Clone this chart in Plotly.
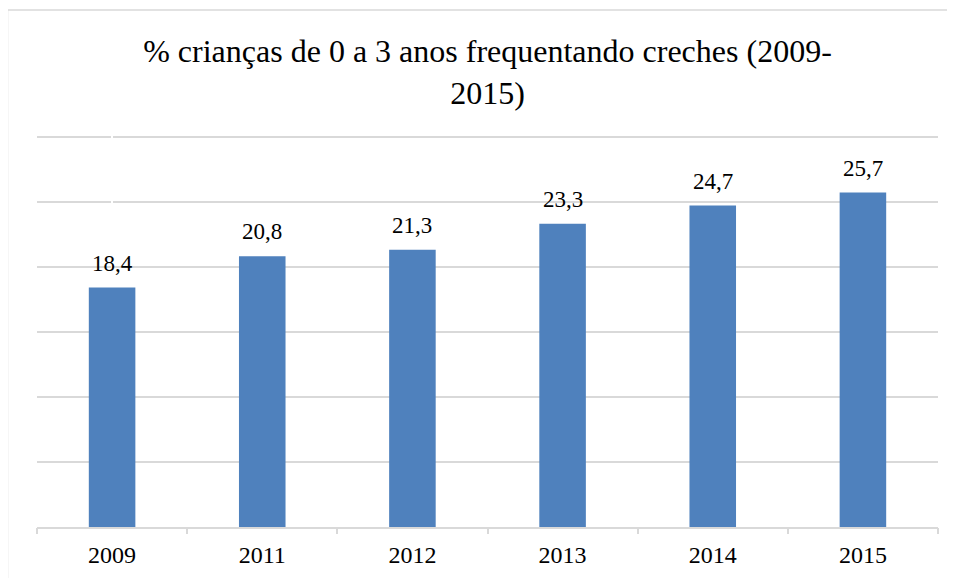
import plotly.graph_objects as go

categories = ["2009", "2011", "2012", "2013", "2014", "2015"]
values = [18.4, 20.8, 21.3, 23.3, 24.7, 25.7]
title_text = "% crianças de 0 a 3 anos frequentando creches (2009-<br>2015)"

W, H = 955, 578
OFF = 8  # page body margin offset
YMAX = 30.2
PX_PER_UNIT = 13.0
# desired plot area in page pixels
PL, PR, PB = 37, 938, 527
PT = PB - YMAX * PX_PER_UNIT
L, T = PL - OFF, PT - OFF
R = W - (PR - OFF)
B = H - (PB - OFF)
pw, ph = PR - PL, PB - PT
FONT = "Liberation Serif"

fig = go.Figure()
fig.add_trace(go.Bar(
    x=list(range(len(categories))), y=values,
    marker=dict(color="#4F81BD", line=dict(width=0)),
    width=0.31,
    hoverinfo="skip",
))

for i, v in enumerate(values):
    fig.add_annotation(
        x=i, y=v, xref="x", yref="y",
        text=f"{v:.1f}".replace(".", ","),
        showarrow=False, yanchor="bottom", yshift=10,
        font=dict(family=FONT, size=23, color="#000000"),
    )

def px_to_paper_x(px):
    return (px - PL) / pw

def px_to_paper_y(py):
    return (PB - py) / ph

fig.add_shape(
    type="rect", xref="paper", yref="paper",
    x0=px_to_paper_x(7.5), x1=px_to_paper_x(985),
    y0=px_to_paper_y(610), y1=px_to_paper_y(10.5),
    line=dict(color="#d9d9d9", width=1.5), fillcolor="rgba(0,0,0,0)", layer="below",
)

fig.update_layout(
    width=W, height=H,
    margin=dict(l=L, r=R, t=T, b=B),
    paper_bgcolor="white", plot_bgcolor="white",
    showlegend=False,
    font=dict(family=FONT, color="#000000"),
    title=dict(
        text=title_text, x=0.5, xref="paper", xanchor="center",
        y=1 - (62 - OFF) / H, yref="container", yanchor="top",
        font=dict(family=FONT, size=32, color="#000000"),
    ),
    xaxis=dict(
        range=[-0.5, len(categories) - 0.5],
        tickmode="array", tickvals=list(range(len(categories))), ticktext=categories,
        ticks="", showgrid=False,
        showline=True, linecolor="#d9d9d9", linewidth=1.5,
        tickfont=dict(family=FONT, size=24, color="#000000"),
        ticklabelstandoff=5,
        fixedrange=True,
    ),
    xaxis2=dict(
        overlaying="x", matches="x", side="bottom",
        tickmode="array", tickvals=[i - 0.5 for i in range(len(categories) + 1)],
        ticks="outside", ticklen=6, tickcolor="#d9d9d9", tickwidth=1.5,
        showticklabels=False, showgrid=False, showline=False,
    ),
    yaxis=dict(
        range=[0, YMAX], tickmode="array", tickvals=[0, 5, 10, 15, 20, 25, 30],
        showticklabels=False,
        showgrid=True, gridcolor="#d9d9d9", gridwidth=1.5,
        zeroline=False, showline=False, fixedrange=True,
    ),
)
fig.add_trace(go.Scatter(x=[0], y=[0], xaxis="x2", mode="markers",
                         marker=dict(opacity=0), hoverinfo="skip", showlegend=False))

fig.write_html("out.html")
